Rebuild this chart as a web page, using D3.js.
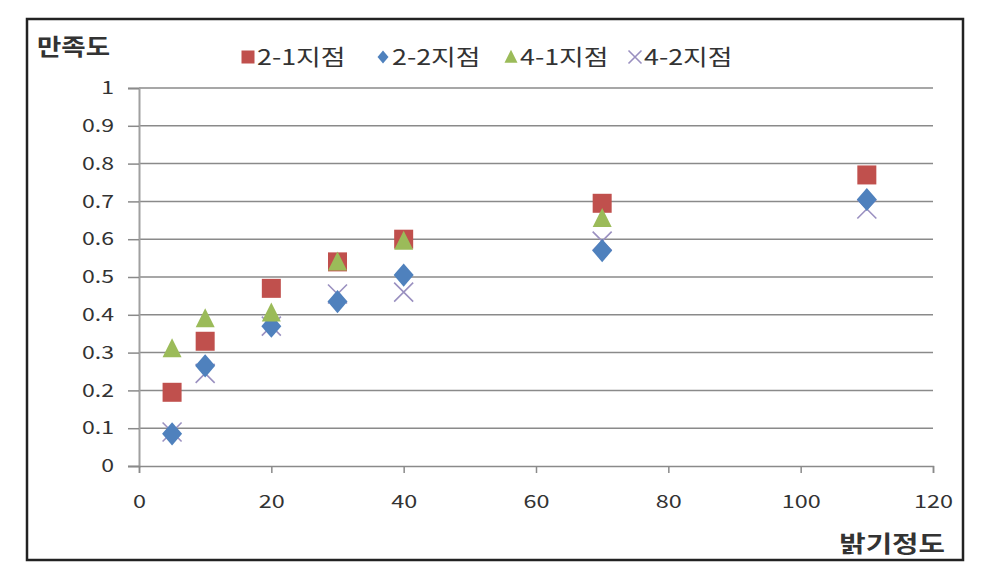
<!DOCTYPE html>
<html><head><meta charset="utf-8">
<script src="https://cdn.jsdelivr.net/npm/d3@7"></script>
<style>body{margin:0;background:#fff}svg{display:block}text{font-family:"Noto Sans CJK KR","Noto Sans",sans-serif}</style>
</head><body><svg id="c" width="983" height="571"></svg>
<script>
const xValues = [5, 10, 20, 30, 40, 70, 110];
const s21 = [0.195, 0.33, 0.47, 0.54, 0.60, 0.695, 0.77];
const s22 = [0.085, 0.265, 0.37, 0.435, 0.505, 0.57, 0.705];
const s41 = [0.31, 0.39, 0.405, 0.54, 0.595, 0.655, null];
const s42 = [0.09, 0.245, 0.37, 0.455, 0.46, 0.595, 0.68];
const seriesNames = ["2-1지점", "2-2지점", "4-1지점", "4-2지점"];
const xTicks = [0, 20, 40, 60, 80, 100, 120];
const yTicks = [0, 0.1, 0.2, 0.3, 0.4, 0.5, 0.6, 0.7, 0.8, 0.9, 1];
const yTitle = "만족도", xTitle = "밝기정도";

const svg = d3.select("#c");
const x = d3.scaleLinear().domain([0, 120]).range([139, 933]);
const y = d3.scaleLinear().domain([0, 1]).range([466, 88]);

function stretch(sel, f) {
  sel.each(function() {
    const L = this.getComputedTextLength();
    d3.select(this).attr("textLength", L * f).attr("lengthAdjust", "spacingAndGlyphs");
  });
}

svg.append("rect").attr("x", 27).attr("y", 19).attr("width", 936).attr("height", 541)
  .attr("fill", "#fff").attr("stroke", "#222").attr("stroke-width", 2.5);

// gridlines
svg.append("g").selectAll("line").data(yTicks.slice(1)).join("line")
  .attr("x1", 139).attr("x2", 933).attr("y1", d => y(d)).attr("y2", d => y(d))
  .attr("stroke", "#8a8a8a").attr("stroke-width", 1.5);

// y axis
const ya = svg.append("g").attr("transform", "translate(139,0)")
  .call(d3.axisLeft(y).tickValues(yTicks).tickSize(11).tickPadding(14).tickFormat(d => String(+d.toFixed(1))));
ya.select(".domain").attr("stroke", "#a0a0a0").attr("stroke-width", 2);
ya.selectAll(".tick line").attr("stroke", "#8a8a8a").attr("stroke-width", 1.5);
ya.selectAll("text").attr("font-size", 18).attr("fill", "#333").attr("font-family", "'Noto Sans CJK KR'");
stretch(ya.selectAll("text"), 1.28);

// x axis
const xa = svg.append("g").attr("transform", "translate(0,466)")
  .call(d3.axisBottom(x).tickValues(xTicks).tickSize(7).tickPadding(22));
xa.select(".domain").attr("stroke", "#8a8a8a").attr("stroke-width", 1.5);
xa.selectAll(".tick line").attr("stroke", "#8a8a8a").attr("stroke-width", 1.5);
xa.selectAll("text").attr("font-size", 18).attr("fill", "#333").attr("font-family", "'Noto Sans CJK KR'");
stretch(xa.selectAll("text"), 1.3);

const colors = ["#C0504D", "#4F81BD", "#9BBB59", "#9A90C0"];
function marker(g, k, cx, cy, s) {
  if (k === 0) g.append("rect").attr("x", cx - s/2).attr("y", cy - s/2).attr("width", s).attr("height", s).attr("fill", colors[0]);
  else if (k === 1) g.append("path").attr("d", `M${cx},${cy - s*0.58}L${cx + s/2},${cy}L${cx},${cy + s*0.58}L${cx - s/2},${cy}Z`).attr("fill", colors[1]);
  else if (k === 2) g.append("path").attr("d", `M${cx},${cy - s*0.55}L${cx + s/2},${cy + s*0.45}L${cx - s/2},${cy + s*0.45}Z`).attr("fill", colors[2]);
  else g.append("path").attr("d", `M${cx - s/2},${cy - s/2}L${cx + s/2},${cy + s/2}M${cx + s/2},${cy - s/2}L${cx - s/2},${cy + s/2}`).attr("stroke", colors[3]).attr("stroke-width", 1.6).attr("fill", "none");
}
const all = [s21, s22, s41, s42];
const order = [3, 0, 1, 2];
const pg = svg.append("g");
order.forEach(k => {
  all[k].forEach((v, i) => { if (v != null) marker(pg, k, x(xValues[i]), y(v), k === 1 ? 20 : 19); });
});

// legend
const legX = [248, 383, 511, 635];
seriesNames.forEach((n, k) => {
  const lg = svg.append("g");
  marker(lg, k, legX[k], 57, k === 1 ? 11 : 13);
  const t = lg.append("text").attr("x", legX[k] + 9).attr("y", 65).attr("font-size", 22).attr("fill", "#333").text(n);
  stretch(t, 1.22);
});

const t1 = svg.append("text").attr("x", 37).attr("y", 55).attr("font-size", 23).attr("font-weight", "bold").attr("fill", "#333").text(yTitle);
stretch(t1, 1.15);
const t2 = svg.append("text").attr("x", 945).attr("y", 552).attr("text-anchor", "end").attr("font-size", 23).attr("font-weight", "bold").attr("fill", "#333").text(xTitle);
stretch(t2, 1.25);
</script></body></html>
